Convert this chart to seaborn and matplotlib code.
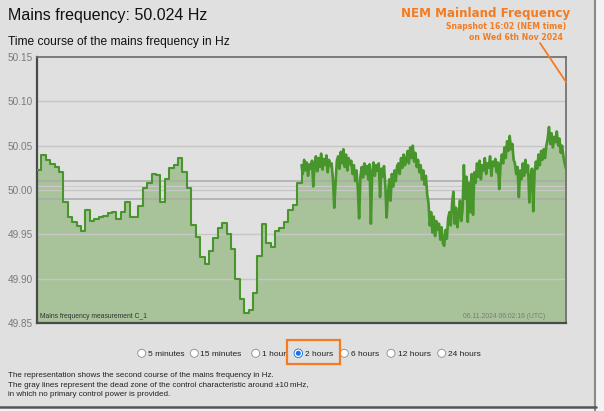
import numpy as np
import pandas as pd
import matplotlib
matplotlib.use("Agg")
import matplotlib.pyplot as plt
import seaborn as sns
from matplotlib.patches import Ellipse, Rectangle
from matplotlib.lines import Line2D

# ---------------- data ----------------
# first hour: one-minute averages (Hz)
minute_values = [
    50.023, 50.039, 50.034, 50.029, 50.026, 50.020, 49.987, 49.969, 49.964, 49.959,
    49.954, 49.978, 49.965, 49.967, 49.969, 49.971, 49.974, 49.975, 49.967, 49.975,
    49.986, 49.969, 49.969, 49.982, 50.002, 50.008, 50.018, 50.017, 49.986, 50.012,
    50.0245, 50.028, 50.036, 50.020, 50.002, 49.9605, 49.947, 49.925, 49.917, 49.931,
    49.946, 49.957, 49.963, 49.950, 49.934, 49.900, 49.877, 49.861, 49.865, 49.884,
    49.9255, 49.962, 49.9405, 49.936, 49.954, 49.957, 49.964, 49.978, 49.983, 50.008,
]
# second hour: high-resolution readings (Hz)
second_values = [
    50.028, 50.018, 50.034, 50.022, 50.031, 50.016, 50.029, 50.024, 50.033, 50.004,
    50.030, 50.038, 50.021, 50.036, 50.026, 50.041, 50.023, 50.035, 50.028, 50.039, 50.020, 50.034, 50.027,
    50.030, 50.012, 49.980, 50.008, 50.033,
    50.038, 50.024, 50.043, 50.030, 50.046, 50.026, 50.040, 50.022, 50.036, 50.029,
    50.033, 50.018, 50.028, 50.010, 50.022, 50.002, 49.968, 50.015,
    50.026, 50.014, 50.030, 50.018, 50.027, 50.012, 50.029, 49.962, 50.020, 50.031,
    50.016, 50.028, 50.022, 50.030, 49.992, 50.024, 50.015, 50.027, 50.006, 49.969,
    49.995, 50.012, 49.988, 50.018, 50.004, 50.022, 50.010, 50.027,
    50.030, 50.018, 50.036, 50.025, 50.040, 50.028, 50.034, 50.044, 50.030, 50.048, 50.036, 50.050, 50.032, 50.042, 50.026,
    50.034, 50.020, 50.028, 50.012, 50.022, 50.006, 50.016, 49.995,
    49.985, 49.960, 49.975, 49.952, 49.970, 49.948, 49.965, 49.955,
    49.962, 49.944, 49.958, 49.940, 49.937, 49.955, 49.945, 49.968,
    49.975, 49.960, 49.985, 49.998, 49.962, 49.980, 49.958, 49.972, 49.988, 49.965, 49.978,
    50.028, 49.990, 50.015, 49.964, 50.008, 49.975, 50.018, 49.972,
    50.020, 50.008, 50.030, 50.015, 50.033, 50.012, 50.028, 50.022, 50.036, 50.018, 50.030,
    50.025, 50.038, 50.016, 50.032, 50.027, 50.035, 50.020, 50.031, 50.001, 50.028,
    50.040, 50.030, 50.048, 50.036, 50.055, 50.044, 50.061, 50.046, 50.052, 50.034,
    50.030, 50.018, 50.026, 49.992, 50.022, 50.012, 50.030, 50.016, 50.034, 50.020,
    50.028, 49.986, 50.015, 50.024, 49.976,
    50.020, 50.032, 50.024, 50.040, 50.028, 50.044, 50.034, 50.046, 50.036, 50.050,
    50.058, 50.071, 50.052, 50.064, 50.048, 50.060, 50.054, 50.066, 50.050, 50.058, 50.042, 50.050,
    50.038, 50.030, 50.024,
]
y_ticks = [49.85, 49.90, 49.95, 50.00, 50.05, 50.10, 50.15]
dead_zone = [49.99, 50.01]
radio_labels = ["5 minutes", "15 minutes", "1 hour", "2 hours", "6 hours", "12 hours", "24 hours"]
selected = "2 hours"

# ---------------- frame ----------------
W, H = 604, 411
sns.set_theme(style="white")
plt.rcParams['font.family'] = ['Liberation Sans', 'DejaVu Sans']
BG = "#e0e0e0"
fig = plt.figure(figsize=(W / 100, H / 100), dpi=100, facecolor=BG)

def fx(x):
    return x / W

def fy(y):
    return 1 - y / H

L, R, T, B = 37, 566, 57, 323
ax = fig.add_axes([fx(L), fy(B), fx(R) - fx(L), fy(T) - fy(B)])
ax.set_facecolor(BG)

# time axis (minutes)
t1 = np.arange(len(minute_values), dtype=float)
t2 = 60 + np.arange(len(second_values)) * 60.0 / (len(second_values) - 1)
df1 = pd.DataFrame({"t": np.append(t1, 60.0), "f": minute_values + [second_values[0]]})
df2 = pd.DataFrame({"t": t2, "f": second_values})

LINE = "#48952b"
FILL = "#a8c39a"
ax.fill_between(df1["t"], df1["f"], 49.80, step="post", color=FILL, lw=0, zorder=1)
ax.fill_between(df2["t"], df2["f"], 49.80, color=FILL, lw=0, zorder=1)

for v in y_ticks[1:-1]:
    ax.axhline(v, color="#c6c6c6", lw=1.0, zorder=2)
ax.axhline(50.005, color="#cbcbcb", lw=0.8, zorder=2)
for v in dead_zone:
    ax.axhline(v, color="#a9a9a9", lw=1.1, zorder=2)

sns.lineplot(data=df1, x="t", y="f", ax=ax, color=LINE, lw=1.5, drawstyle="steps-post", zorder=3)
sns.lineplot(data=df2, x="t", y="f", ax=ax, color=LINE, lw=1.9, zorder=3)

ax.set_xlim(0, 120)
ax.set_ylim(49.85, 50.15)
ax.set_yticks(y_ticks)
ax.set_yticklabels([f"{v:.2f}" for v in y_ticks])
ax.set_xticks([])
ax.set_xlabel("")
ax.set_ylabel("")
ax.tick_params(axis="y", length=0, pad=3, labelsize=7.2, labelcolor="#7a7a7a")
for s in ["left", "bottom"]:
    ax.spines[s].set_color("#4a4a4a")
    ax.spines[s].set_linewidth(1.6)
for s in ["top", "right"]:
    ax.spines[s].set_color("#6a6a6a")
    ax.spines[s].set_linewidth(1.2)

ax.text(0.006, 0.012, "Mains frequency measurement C_1", transform=ax.transAxes,
        fontsize=4.9, color="#333333", ha="left", va="bottom")
ax.text(0.96, 0.012, "06.11.2024 06:02:16 (UTC)", transform=ax.transAxes,
        fontsize=4.9, color="#7a7a7a", ha="right", va="bottom")

# ---------------- page frame / shadow ----------------
fig.add_artist(Rectangle((fx(596), 0), 1 - fx(596), 1, facecolor="#f2f2f2",
                         edgecolor="none", zorder=-1))
fig.add_artist(Line2D([fx(595), fx(595)], [fy(411), 1], color="#8a8a8a", lw=1.5, zorder=-0.5))
fig.add_artist(Rectangle((0, 0), 1, fy(407) + 0.001, facecolor="#f2f2f2",
                         edgecolor="none", zorder=-1))
fig.add_artist(Line2D([0, fx(596)], [fy(407), fy(407)], color="#555555", lw=1.8, zorder=-0.5))

# ---------------- titles ----------------
fig.text(fx(8), fy(20), "Mains frequency: 50.024 Hz", fontsize=11.5, color="#111111",
         ha="left", va="baseline")
fig.text(fx(8), fy(45), "Time course of the mains frequency in Hz", fontsize=8.65,
         color="#111111", ha="left", va="baseline")

ORANGE = "#f47b20"
fig.text(fx(570), fy(17), "NEM Mainland Frequency", fontsize=8.6, fontweight="bold",
         color=ORANGE, ha="right", va="baseline", family="DejaVu Sans")
fig.text(fx(566), fy(29), "Snapshot 16:02 (NEM time)", fontsize=5.6, fontweight="bold",
         color=ORANGE, ha="right", va="baseline", family="DejaVu Sans")
fig.text(fx(563), fy(40), "on Wed 6th Nov 2024", fontsize=5.6, fontweight="bold",
         color=ORANGE, ha="right", va="baseline", family="DejaVu Sans")
fig.add_artist(Line2D([fx(540), fx(566)], [fy(43), fy(82)], color=ORANGE, lw=1.3, zorder=5))

# ---------------- radio buttons ----------------
circle_x = [141.7, 194.3, 255.7, 298.3, 344.3, 391.0, 441.7]
text_x = [148.3, 199.6, 261.7, 305.0, 350.7, 397.7, 448.3]
cy = 353.3
for lab, cx, tx in zip(radio_labels, circle_x, text_x):
    if lab == selected:
        fig.add_artist(Ellipse((fx(cx), fy(cy)), 8.5 / W, 8.5 / H, facecolor="#1a73e8",
                               edgecolor="#1a73e8", lw=0.6))
        fig.add_artist(Ellipse((fx(cx), fy(cy)), 6.3 / W, 6.3 / H, facecolor="none",
                               edgecolor="white", lw=0.9))
    else:
        fig.add_artist(Ellipse((fx(cx), fy(cy)), 8 / W, 8 / H, facecolor="white",
                               edgecolor="#8a8a8a", lw=0.6))
    fig.text(fx(tx), fy(356), lab, fontsize=6.0, color="#222222", ha="left", va="baseline")

fig.add_artist(Rectangle((fx(287), fy(363.5)), (340 - 287) / W, (363.5 - 339.5) / H,
                         facecolor="none", edgecolor=ORANGE, lw=1.6))

# ---------------- description ----------------
desc = [
    "The representation shows the second course of the mains frequency in Hz.",
    "The gray lines represent the dead zone of the control characteristic around \u00b110\u2009mHz,",
    "in which no primary control power is provided.",
]
for i, line in enumerate(desc):
    fig.text(fx(8), fy(377 + i * 9.6), line, fontsize=5.75, color="#222222",
             ha="left", va="baseline")

fig.savefig("out.png", dpi=100, facecolor=BG)
